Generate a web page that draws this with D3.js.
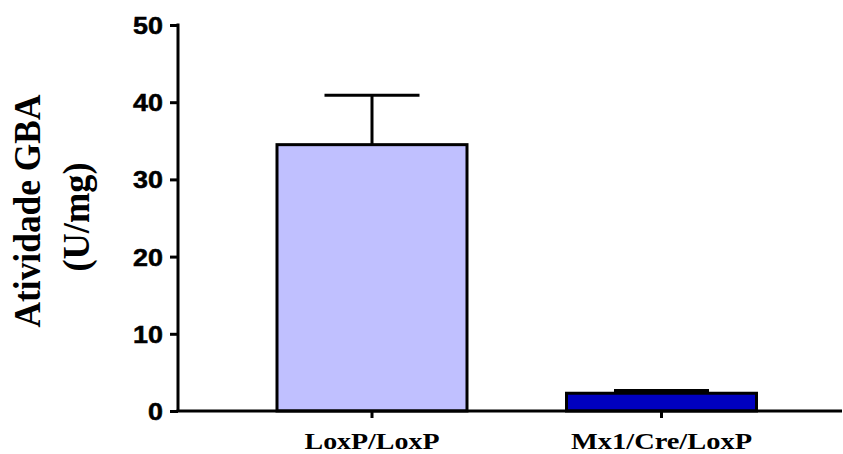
<!DOCTYPE html>
<html>
<head>
<meta charset="utf-8">
<script src="https://cdn.jsdelivr.net/npm/d3@7"></script>
<style>
  html, body { margin: 0; padding: 0; background: #fff; }
  svg { display: block; }
</style>
</head>
<body>
<svg id="chart" width="843" height="454"></svg>
<script>
const categories = ["LoxP/LoxP", "Mx1/Cre/LoxP"];
const means = [34.5, 2.3];
const errors = [6.4, 0.35];
const barColors = ["#C0C0FF", "#0000C0"];
const yTicks = [0, 10, 20, 30, 40, 50];
const yTitleLines = ["Atividade GBA", "(U/mg)"];

const svg = d3.select("#chart");
const axisX = 178, axisY = 411, topY = 25, rightX = 842;

const y = d3.scaleLinear().domain([0, 50]).range([axisY, topY]);
const x = d3.scaleBand().domain(categories).range([277, 756.5]).paddingInner(0.3437).paddingOuter(0);
const bw = x.bandwidth();

// bars
svg.selectAll("rect.bar").data(categories).join("rect")
  .attr("class", "bar")
  .attr("x", d => x(d))
  .attr("y", (d, i) => y(means[i]))
  .attr("width", bw)
  .attr("height", (d, i) => y(0) - y(means[i]))
  .attr("fill", (d, i) => barColors[i])
  .attr("stroke", "#000")
  .attr("stroke-width", 3);

// error bars (upper only)
const eg = svg.selectAll("g.err").data(categories).join("g").attr("class", "err");
eg.append("line")
  .attr("x1", d => x(d) + bw / 2).attr("x2", d => x(d) + bw / 2)
  .attr("y1", (d, i) => y(means[i])).attr("y2", (d, i) => y(means[i] + errors[i]))
  .attr("stroke", "#000").attr("stroke-width", 3);
eg.append("line")
  .attr("x1", d => x(d) + bw / 4).attr("x2", d => x(d) + bw * 3 / 4)
  .attr("y1", (d, i) => y(means[i] + errors[i])).attr("y2", (d, i) => y(means[i] + errors[i]))
  .attr("stroke", "#000").attr("stroke-width", 3);

// y axis
const ya = svg.append("g").attr("transform", `translate(${axisX},0)`)
  .call(d3.axisLeft(y).tickValues(yTicks).tickSize(8).tickSizeOuter(0).tickFormat(d3.format("d")));
ya.select(".domain").attr("stroke-width", 3).attr("d", `M0,${topY - 1.5}V${axisY}`);
ya.selectAll(".tick line").attr("stroke-width", 3);
ya.selectAll(".tick text")
  .attr("x", 0).attr("dy", null)
  .attr("transform", "translate(-15,8.5) scale(1.17,1)")
  .style("font-family", "'Liberation Sans', Arial, sans-serif")
  .style("font-weight", "bold")
  .style("font-size", "23px")
  .attr("fill", "#000")
  .attr("stroke", "#000")
  .attr("stroke-width", 0.5);

// x axis
const xa = svg.append("g").attr("transform", `translate(0,${axisY})`)
  .call(d3.axisBottom(x).tickSize(7).tickSizeOuter(0).tickPadding(4));
xa.select(".domain").attr("stroke-width", 3).attr("d", `M${axisX - 1.5},0H${rightX}`);
xa.selectAll(".tick line").attr("stroke-width", 3);
xa.selectAll(".tick text")
  .attr("y", null).attr("dy", null)
  .attr("transform", "translate(0,38)")
  .style("font-family", "'Liberation Serif', 'Times New Roman', serif")
  .style("font-weight", "bold")
  .style("font-size", "24px")
  .attr("fill", "#000")
  .attr("textLength", d => d === categories[0] ? 135 : 181)
  .attr("lengthAdjust", "spacingAndGlyphs");

// y title
const titleX = [40, 89];
const titleLen = [233, 109];
const titleCy = [211, 217];
svg.selectAll("text.ytitle").data(yTitleLines).join("text")
  .attr("class", "ytitle")
  .attr("transform", (d, i) => `translate(${titleX[i]},${titleCy[i]}) rotate(-90)`)
  .attr("text-anchor", "middle")
  .style("font-family", "'Liberation Serif', 'Times New Roman', serif")
  .style("font-weight", "bold")
  .style("font-size", "38px")
  .attr("fill", "#000")
  .attr("textLength", (d, i) => titleLen[i])
  .attr("lengthAdjust", "spacingAndGlyphs")
  .text(d => d);
</script>
</body>
</html>
